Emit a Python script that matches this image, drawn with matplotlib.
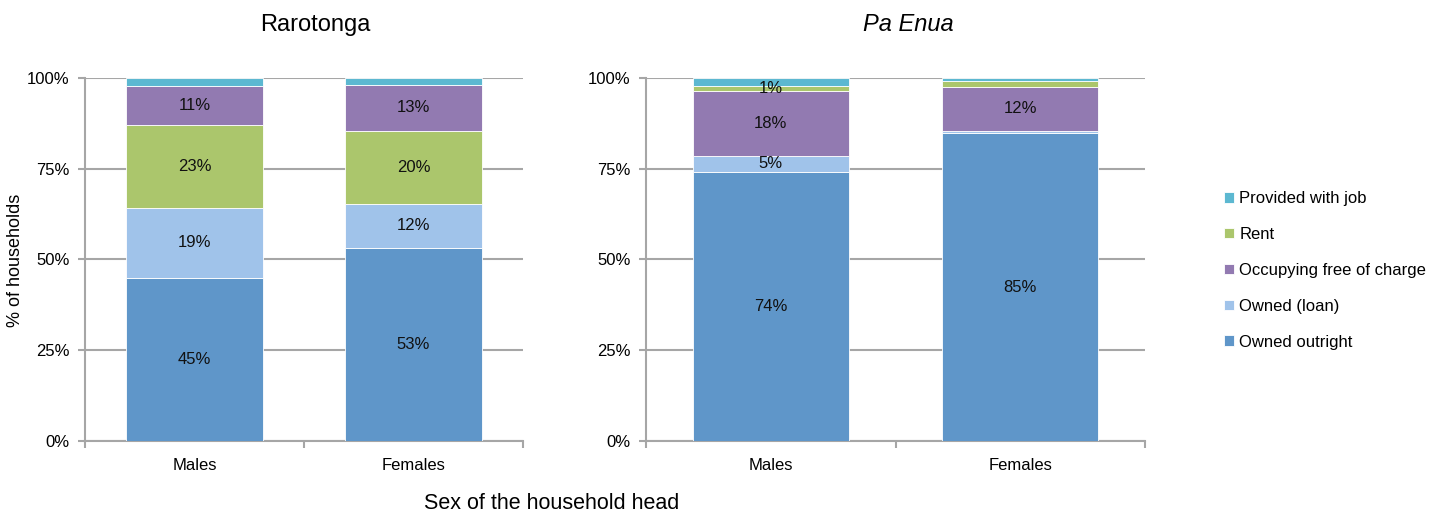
import numpy as np
import matplotlib.pyplot as plt

plt.rcParams['font.family'] = ['Liberation Sans', 'DejaVu Sans']

# categories and series (percent of households)
sexes = ['Males', 'Females']
tenure = ['Owned outright', 'Owned (loan)', 'Occupying free of charge', 'Rent', 'Provided with job']
colors = {'Owned outright': '#5f96c9', 'Owned (loan)': '#a0c3ea',
          'Occupying free of charge': '#927ab1', 'Rent': '#abc66c',
          'Provided with job': '#5cb8d1'}

raro_outright = [45.0, 53.2]
raro_loan = [19.1, 12.1]
raro_free = [10.8, 12.7]
raro_rent = [23.0, 20.1]
raro_job = [2.1, 1.9]

enua_outright = [74.0, 84.8]
enua_loan = [4.6, 0.6]
enua_free = [17.7, 12.1]
enua_rent = [1.4, 1.7]
enua_job = [2.3, 0.8]

# labels shown on the bars (None = hidden)
raro_labels = {'Owned outright': ['45%', '53%'], 'Owned (loan)': ['19%', '12%'],
               'Rent': ['23%', '20%'], 'Occupying free of charge': ['11%', '13%'],
               'Provided with job': [None, None]}
enua_labels = {'Owned outright': ['74%', '85%'], 'Owned (loan)': ['5%', None],
               'Occupying free of charge': ['18%', '12%'], 'Rent': ['1%', None],
               'Provided with job': [None, None]}

GRID = '#a6a6a6'
FS = 12


def draw_panel(ax, series, labels, title, italic=False):
    # series: list of (name, values) bottom to top
    x = np.arange(len(sexes))
    bottom = np.zeros(len(sexes))
    handles = {}
    for name, vals in series:
        vals = np.array(vals)
        b = ax.bar(x, vals, 0.625, bottom=bottom, color=colors[name], edgecolor='white',
                   linewidth=0.6, label=name, zorder=3)
        handles[name] = b
        for xi, v, bt, lab in zip(x, vals, bottom, labels[name]):
            if lab:
                ax.text(xi, bt + v / 2, lab, ha='center', va='center', fontsize=FS,
                        color='#111111', zorder=4)
        bottom += vals
    ax.set_xlim(-0.5, 1.5)
    ax.set_ylim(0, 100)
    ax.set_yticks([0, 25, 50, 75, 100])
    ax.set_yticklabels(['0%', '25%', '50%', '75%', '100%'], fontsize=FS)
    ax.set_xticks(x)
    ax.set_xticklabels(sexes, fontsize=FS)
    ax.set_xticks([-0.5, 0.5, 1.5], minor=True)
    ax.tick_params(axis='x', which='major', length=0, pad=12)
    ax.tick_params(axis='x', which='minor', length=5, color=GRID, width=1.5)
    ax.tick_params(axis='y', length=5, color=GRID, width=1.5, pad=6)
    ax.yaxis.grid(True, color=GRID, linewidth=1.5, zorder=0)
    for s in ['top', 'right']:
        ax.spines[s].set_visible(False)
    for s in ['left', 'bottom']:
        ax.spines[s].set_color(GRID)
        ax.spines[s].set_linewidth(1.5)
    ax.set_title(title, fontsize=17, pad=34, x=0.525, style='italic' if italic else 'normal')
    return handles


fig = plt.figure(figsize=(14.43, 5.16), dpi=100)
ax1 = fig.add_axes([0.0589, 0.1453, 0.3035, 0.7037])
ax2 = fig.add_axes([0.4477, 0.1453, 0.3458, 0.7037])

draw_panel(ax1, [('Owned outright', raro_outright), ('Owned (loan)', raro_loan),
                 ('Rent', raro_rent), ('Occupying free of charge', raro_free),
                 ('Provided with job', raro_job)],
           raro_labels, 'Rarotonga')
handles = draw_panel(ax2, [('Owned outright', enua_outright), ('Owned (loan)', enua_loan),
                           ('Occupying free of charge', enua_free), ('Rent', enua_rent),
                           ('Provided with job', enua_job)],
                     enua_labels, 'Pa Enua', italic=True)

fig.text(0.0105, 0.495, '% of households', rotation=90, ha='center', va='center', fontsize=13)
fig.text(0.3825, 0.025, 'Sex of the household head', ha='center', va='center', fontsize=15.5)

order = tenure[::-1]
fig.legend([handles[n] for n in order], order, loc='center left',
           bbox_to_anchor=(0.838, 0.476), frameon=False, fontsize=FS,
           handlelength=0.6, handleheight=0.6, handletextpad=0.3, labelspacing=1.25)

fig.savefig('out.png', dpi=100)
